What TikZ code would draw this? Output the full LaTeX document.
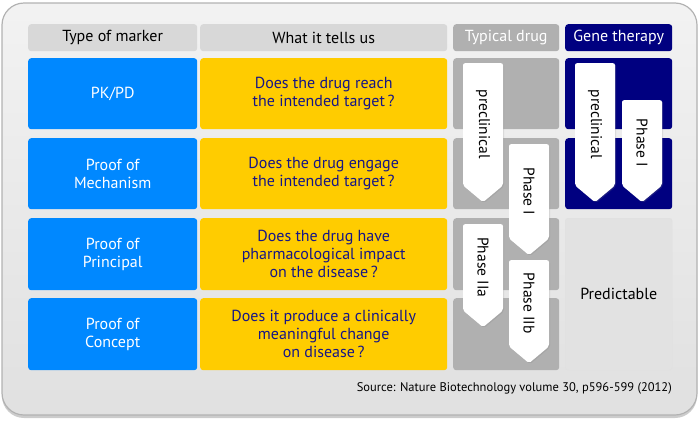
\documentclass[tikz,border=0pt]{standalone}
\usepackage{fontspec}
\setmainfont{PT Sans}
\usetikzlibrary{shapes.symbols,shadows,positioning}
\definecolor{markerblue}{RGB}{0,136,255}
\definecolor{askyellow}{RGB}{255,204,0}
\definecolor{asktext}{RGB}{22,22,135}
\definecolor{genenavy}{RGB}{0,0,128}
\definecolor{druggrey}{RGB}{176,176,176}
\definecolor{headgrey}{RGB}{216,216,216}
\definecolor{predgrey}{RGB}{226,226,226}
\tikzset{
  cell/.style={rounded corners=3pt, inner sep=0pt, align=center, anchor=north west,
    font=\fontsize{16}{18}\selectfont},
  head/.style={cell, minimum height=27},
  marker/.style={cell, fill=markerblue, text=white, minimum width=169, minimum height=71},
  ask/.style={cell, fill=askyellow, text=asktext, minimum width=247, minimum height=71},
  drugcell/.style={cell, fill=druggrey, minimum width=106, minimum height=71},
  genecell/.style={cell, fill=genenavy, minimum width=107, minimum height=71},
  phase/.style={shape=signal, signal to=east, signal pointer angle=100, rotate=-90,
    anchor=west, fill=white, minimum height=40, inner sep=0pt, rounded corners=2pt,
    drop shadow={opacity=0.22, shadow xshift=1pt, shadow yshift=-1pt},
    font=\fontsize{15.5}{15.5}\selectfont}
}
\begin{document}
\begin{tikzpicture}[x=1pt, y=-1pt]
  \useasboundingbox (0,0) rectangle (700,429);
  % panel
  \draw[draw=black!30, line width=1.2pt, rounded corners=22pt, top color=black!5, bottom color=black!12,
    drop shadow={opacity=0.4, shadow xshift=0pt, shadow yshift=-3pt}] (2,3) rectangle (697,415);

  % header row
  \node[head, fill=headgrey, minimum width=169] (hdmarker) at (28,24) {Type of marker};
  \node[head, fill=headgrey, minimum width=247] (hdtells) at (200,24) {What it tells us};
  \node[head, fill=druggrey, text=white, minimum width=106] (hddrug) at (453,24) {Typical drug};
  \node[head, fill=genenavy, text=white, minimum width=107] (hdgene) at (565,24) {Gene therapy};

  % PK/PD
  \node[marker] (mk1) at (28,58) {PK/PD};
  \node[ask] (q1) at (200,58) {Does the drug reach\\the intended target\,?};
  % Proof of Mechanism
  \node[marker] (mk2) at (28,138) {Proof of\\Mechanism};
  \node[ask] (q2) at (200,138) {Does the drug engage\\the intended target\,?};
  % Proof of Principal
  \node[marker, minimum height=72] (mk3) at (28,218) {Proof of\\Principal};
  \node[ask, minimum height=72] (q3) at (200,218) {Does the drug have\\pharmacological impact\\on the disease\,?};
  % Proof of Concept
  \node[marker, minimum height=72] (mk4) at (28,298) {Proof of\\Concept};
  \node[ask, minimum height=72] (q4) at (200,298) {Does it produce a clinically\\meaningful change\\on disease\,?};

  % typical drug column
  \node[drugcell] (dg1) at (453,58) {};
  \node[drugcell] (dg2) at (453,138) {};
  \node[drugcell, minimum height=72] (dg3) at (453,218) {};
  \node[drugcell, minimum height=72] (dg4) at (453,298) {};

  % gene therapy column
  \node[genecell] (gn1) at (565,58) {};
  \node[genecell] (gn2) at (565,138) {};
  \node[cell, draw=black!12, fill=predgrey, minimum width=107, minimum height=152] (pred) at (565,218) {Predictable};

  % phases, typical drug
  \node[phase, minimum width=139] (pre1) at (483,63) {preclinical};
  \node[phase, minimum width=111] (ph1) at (529,144) {Phase I};
  \node[phase, minimum width=103] (ph2a) at (483,224) {Phase IIa};
  \node[phase, minimum width=103] (ph2b) at (529,260) {Phase IIb};
  % phases, gene therapy
  \node[phase, minimum width=139] (pre2) at (595,63) {preclinical};
  \node[phase, minimum width=102] (ph1g) at (642,100) {Phase I};

  % source
  \node[anchor=east, inner sep=0pt, font=\fontsize{12.5}{14}\selectfont] (source) at (672,388)
    {Source: Nature Biotechnology volume 30, p596-599 (2012)};
\end{tikzpicture}
\end{document}
